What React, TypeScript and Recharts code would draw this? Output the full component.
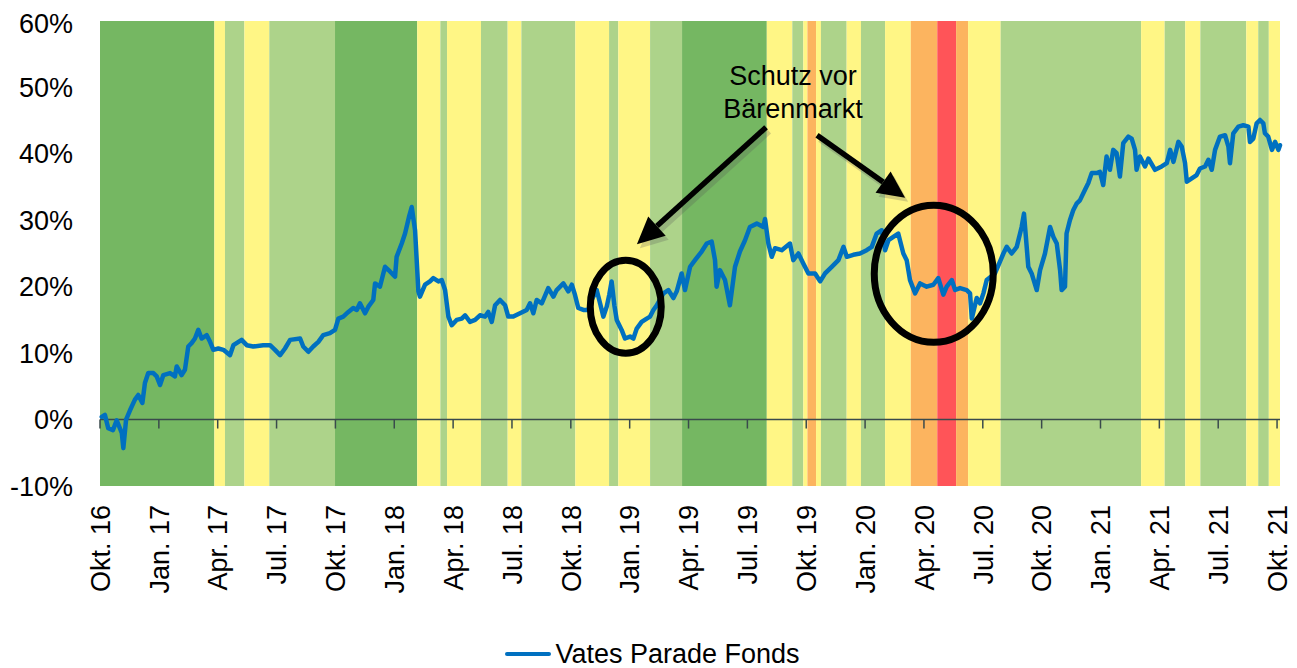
import {
  LineChart,
  Line,
  XAxis,
  YAxis,
  ReferenceArea,
  ReferenceLine,
  ReferenceDot,
  Legend,
} from "recharts";

// x values are months since Okt. 16
const tickMonths = [0, 3, 6, 9, 12, 15, 18, 21, 24, 27, 30, 33, 36, 39, 42, 45, 48, 51, 54, 57, 60];
const tickLabels = [
  "Okt. 16", "Jan. 17", "Apr. 17", "Jul. 17", "Okt. 17", "Jan. 18", "Apr. 18",
  "Jul. 18", "Okt. 18", "Jan. 19", "Apr. 19", "Jul. 19", "Okt. 19", "Jan. 20",
  "Apr. 20", "Jul. 20", "Okt. 20", "Jan. 21", "Apr. 21", "Jul. 21", "Okt. 21",
];
const yTicks = [-10, 0, 10, 20, 30, 40, 50, 60];

// market regime bands
const regimeEdges = [
  0, 5.83, 6.37, 7.36, 8.63, 11.98, 16.17, 17.35, 17.69, 19.42, 20.78, 21.48,
  24.23, 25.95, 26.42, 28.04, 29.67, 33.99, 35.29, 35.85, 36.06, 36.5, 36.75,
  38.06, 38.79, 40.02, 41.33, 42.68, 43.64, 44.25, 45.91, 53.07, 54.27, 55.32,
  56.09, 58.43, 59.04, 59.58, 60.15,
];
const regimeLevels = [
  "strong", "neutral", "positive", "neutral", "positive", "strong", "neutral",
  "positive", "neutral", "positive", "neutral", "positive", "neutral", "positive",
  "neutral", "positive", "strong", "neutral", "positive", "neutral", "weak",
  "neutral", "positive", "neutral", "positive", "neutral", "weak", "bear", "weak",
  "neutral", "positive", "neutral", "positive", "neutral", "positive", "neutral",
  "positive", "neutral",
];
const regimeColors: Record<string, string> = {
  strong: "#75B762",
  positive: "#ADD38A",
  neutral: "#FFF685",
  weak: "#FCB45F",
  bear: "#FF5458",
};

// Vates Parade Fonds performance in %
const fundX = [
  0.09, 0.25, 0.42, 0.66, 0.85, 1.11, 1.19, 1.33, 1.53, 1.78, 1.95, 2.16, 2.29, 2.46, 2.72, 2.89,
  3.06, 3.23, 3.57, 3.82, 3.91, 4.16, 4.33, 4.5, 4.67, 4.84, 5.01, 5.18, 5.44, 5.61, 5.78, 6.03,
  6.29, 6.63, 6.8, 7.22, 7.48, 7.81, 8.32, 8.67, 8.92, 9.18, 9.43, 9.69, 10.2, 10.36, 10.62, 10.87,
  11.13, 11.38, 11.72, 11.98, 12.15, 12.4, 12.66, 12.91, 13.09, 13.25, 13.51, 13.68, 13.93, 14.02,
  14.27, 14.53, 14.78, 15.04, 15.12, 15.38, 15.55, 15.75, 15.89, 16.06, 16.23, 16.31, 16.57, 16.82,
  16.99, 17.25, 17.42, 17.59, 17.76, 17.93, 18.18, 18.44, 18.61, 18.86, 19.12, 19.37, 19.63, 19.79,
  19.97, 20.14, 20.39, 20.65, 20.81, 21.07, 21.41, 21.75, 21.92, 22.09, 22.26, 22.52, 22.85, 23.11,
  23.28, 23.62, 23.87, 24.05, 24.21, 24.38, 24.64, 24.89, 25.06, 25.32, 25.49, 25.66, 25.83, 25.96,
  26.08, 26.22, 26.34, 26.59, 26.76, 27.02, 27.19, 27.36, 27.61, 27.87, 28.04, 28.21, 28.38, 28.72,
  28.97, 29.23, 29.4, 29.65, 29.82, 30.08, 30.33, 30.67, 30.93, 31.18, 31.35, 31.43, 31.6, 31.86,
  32.11, 32.37, 32.62, 32.88, 33.13, 33.48, 33.81, 33.9, 34.07, 34.24, 34.41, 34.75, 35.17, 35.34,
  35.6, 35.85, 36.11, 36.45, 36.71, 36.96, 37.3, 37.64, 37.9, 38.07, 38.4, 38.74, 39.08, 39.34,
  39.59, 39.85, 40.02, 40.19, 40.44, 40.69, 40.95, 41.12, 41.29, 41.55, 41.8, 42.14, 42.48, 42.73,
  42.99, 43.16, 43.42, 43.59, 43.84, 44.18, 44.35, 44.44, 44.69, 44.86, 45.03, 45.2, 45.62, 46.05,
  46.22, 46.47, 46.73, 46.98, 47.1, 47.32, 47.49, 47.75, 47.92, 48.17, 48.43, 48.6, 48.77, 48.94,
  49.02, 49.19, 49.27, 49.44, 49.61, 49.78, 49.95, 50.21, 50.38, 50.55, 50.8, 50.97, 51.14, 51.31,
  51.48, 51.65, 51.82, 51.99, 52.16, 52.42, 52.59, 52.76, 52.84, 53.01, 53.27, 53.44, 53.78, 54.12,
  54.38, 54.55, 54.72, 54.97, 55.14, 55.31, 55.4, 55.65, 55.9, 56.07, 56.33, 56.5, 56.67, 56.84,
  57.09, 57.35, 57.52, 57.6, 57.77, 58.03, 58.28, 58.54, 58.62, 58.79, 58.96, 59.13, 59.3, 59.38,
  59.55, 59.74, 59.9, 60.07, 60.15,
];
const fundY = [
  0.4, 0.7, -1.3, -1.6, -0.1, -2.0, -4.3, 0, 1.4, 3.0, 3.7, 2.5, 5.5, 7.0, 7.0, 6.5,
  5.2, 6.7, 7.0, 6.5, 8.0, 6.7, 7.5, 11.0, 11.5, 12.2, 13.5, 12.2, 12.7, 11.7, 10.5, 10.7,
  10.5, 9.7, 11.2, 12.0, 11.2, 11.0, 11.2, 11.2, 10.5, 9.7, 10.7, 12.0, 12.2, 11.0, 10.2, 11.0,
  11.7, 12.7, 13.0, 13.5, 15.2, 15.5, 16.2, 16.8, 16.5, 17.5, 16.0, 17.0, 18.0, 20.5,
  20.0, 23.0, 22.3, 21.5, 24.5, 26.5, 28.0, 30.5, 32.0, 28.5, 19.3, 18.5, 20.3, 20.8,
  21.3, 20.8, 21.0, 19.5, 15.5, 14.2, 15.0, 15.2, 15.7, 14.7, 15.0, 15.7, 15.5, 16.2,
  14.7, 17.2, 18.0, 17.2, 15.5, 15.5, 16.0, 16.5, 17.5, 16.0, 18.0, 17.5, 19.8, 18.5,
  19.5, 20.5, 19.3, 20.3, 18.8, 16.8, 16.5, 16.5, 18.0, 19.5, 17.5, 15.5, 17.0, 18.8,
  20.8, 17.2, 15.0, 13.5, 12.2, 12.5, 12.2, 13.7, 14.7, 15.2, 15.5, 16.5, 17.2, 19.0,
  19.5, 18.3, 19.3, 22.0, 19.5, 23.0, 24.0, 25.3, 26.5, 26.8, 24.0, 20.0, 22.5, 21.0,
  17.2, 23.0, 25.3, 27.0, 29.0, 29.5, 29.0, 30.2, 26.5, 24.5, 25.8, 25.5, 26.5, 24.0,
  25.0, 23.5, 22.0, 22.0, 20.8, 22.0, 23.0, 24.0, 26.0, 24.5, 24.8, 25.0, 25.5, 26.0,
  28.0, 28.5, 25.5, 27.0, 27.5, 28.0, 25.0, 24.0, 21.0, 19.0, 20.5, 20.0, 20.3, 21.3,
  18.8, 20.0, 21.0, 19.5, 19.8, 19.5, 19.0, 15.2, 18.3, 17.5, 19.0, 21.0, 22.0, 25.0,
  26.0, 25.0, 26.0, 29.0, 31.0, 23.0, 22.0, 19.5, 22.5, 25.0, 29.0, 27.5, 26.5, 22.5,
  19.5, 20.0, 28.0, 30.0, 31.5, 32.5, 33.0, 34.6, 35.6, 37.1, 37.1, 37.3, 35.3, 39.6,
  37.6, 40.6, 40.1, 36.6, 41.6, 42.6, 42.3, 40.6, 37.6, 39.6, 38.1, 39.3, 37.6, 38.1,
  38.6, 40.6, 38.8, 41.8, 41.1, 38.6, 35.8, 36.3, 36.8, 37.8, 38.1, 39.1, 37.6, 40.6,
  42.6, 42.8, 41.1, 38.6, 43.1, 44.1, 44.3, 44.1, 41.8, 42.3, 44.6, 45.1, 44.6, 43.1,
  42.6, 40.6, 41.8, 40.6, 41.3,
];

// annotation anchors (month, %)
const calloutText = ["Schutz vor", "Bärenmarkt"];
const calloutTextAt = { x: 35.33, y: 49.3 };
const arrowFrom = [{ x: 33.95, y: 44.0 }, { x: 36.55, y: 42.8 }];
const arrowTo = [{ x: 27.37, y: 26.4 }, { x: 41.04, y: 33.4 }];
const circleAt = [{ x: 26.8, y: 17.0 }, { x: 42.5, y: 21.95 }];
const circleRadii = [[35.5, 46.5], [59.5, 68.5]];

const FONT = "'Liberation Sans', Arial, Helvetica, sans-serif";

const data = fundX.map((m, i) => ({ m, v: fundY[i] }));

const XTick = (props: any) => {
  const { x, y, payload } = props;
  const label = tickLabels[tickMonths.indexOf(payload.value)];
  return (
    <g transform={`translate(${x},${y})`}>
      <text
        transform="rotate(-90)"
        x={-19}
        y={0}
        dy="0.36em"
        textAnchor="end"
        fontSize={27}
        fontFamily={FONT}
        fill="#000"
      >
        {label}
      </text>
    </g>
  );
};

const ArrowShape = (props: any) => {
  const { x1, y1, x2, y2 } = props;
  const ang = Math.atan2(y2 - y1, x2 - x1);
  const len = 27;
  const half = 13;
  const bx = x2 - len * Math.cos(ang);
  const by = y2 - len * Math.sin(ang);
  const px = -Math.sin(ang) * half;
  const py = Math.cos(ang) * half;
  const pts = `${x2},${y2} ${bx + px},${by + py} ${bx - px},${by - py}`;
  return (
    <g>
      <g opacity={0.25} transform="translate(3,4)">
        <line x1={x1} y1={y1} x2={bx} y2={by} stroke="#555" strokeWidth={6} />
        <polygon points={pts} fill="#555" />
      </g>
      <line x1={x1} y1={y1} x2={bx} y2={by} stroke="#000" strokeWidth={5.5} />
      <polygon points={pts} fill="#000" />
    </g>
  );
};

const makeEllipse = (i: number) => (props: any) => (
  <ellipse
    cx={props.cx}
    cy={props.cy}
    rx={circleRadii[i][0]}
    ry={circleRadii[i][1]}
    fill="none"
    stroke="#000"
    strokeWidth={7}
  />
);

const CalloutShape = (props: any) => (
  <text
    x={props.cx}
    y={props.cy}
    textAnchor="middle"
    fontSize={27}
    fontFamily={FONT}
    fill="#000"
  >
    <tspan x={props.cx} dy="-0.25em">{calloutText[0]}</tspan>
    <tspan x={props.cx} dy="1.2em">{calloutText[1]}</tspan>
  </text>
);

const renderLegend = () => (
  <div
    style={{
      height: 72,
      paddingTop: 44,
      boxSizing: "border-box",
      display: "flex",
      justifyContent: "center",
      alignItems: "center",
      fontFamily: FONT,
      fontSize: 27,
      lineHeight: "28px",
      color: "#000",
    }}
  >
    <span
      style={{
        display: "inline-block",
        width: 46,
        height: 4,
        borderRadius: 2,
        background: "#0070C0",
        marginRight: 4,
      }}
    />
    <span>Vates Parade Fonds</span>
  </div>
);

export default function App() {
  return (
    <div style={{ width: 1289, height: 660 }}>
      <LineChart
        width={1289}
        height={660}
        data={data}
        margin={{ top: 13, right: 17, bottom: 0, left: 0 }}
      >
        <XAxis
          dataKey="m"
          type="number"
          domain={[0, 60.15]}
          ticks={tickMonths}
          interval={0}
          tick={<XTick />}
          tickLine={false}
          axisLine={false}
          tickSize={0}
          tickMargin={0}
          height={110}
        />
        <YAxis
          type="number"
          domain={[-10, 60]}
          ticks={yTicks}
          tickFormatter={(v: number) => `${v}%`}
          tick={{ fontSize: 27, fill: "#000", fontFamily: FONT }}
          tickLine={false}
          axisLine={false}
          tickSize={0}
          tickMargin={27}
          width={92}
        />
        {regimeLevels.map((lvl, i) => (
          <ReferenceArea
            key={`band-${i}`}
            x1={regimeEdges[i]}
            x2={regimeEdges[i + 1]}
            y1={-10}
            y2={60}
            fill={regimeColors[lvl]}
            fillOpacity={1}
            stroke="none"
          />
        ))}
        <ReferenceLine y={0} stroke="#3A4A4C" strokeWidth={1.5} />
        {tickMonths.map((t) => (
          <ReferenceLine
            key={`tick-${t}`}
            segment={[{ x: t, y: 0 }, { x: t, y: -1.35 }]}
            stroke="#3A4A4C"
            strokeWidth={1.5}
          />
        ))}
        <Line
          type="linear"
          dataKey="v"
          stroke="#0070C0"
          strokeWidth={4.5}
          strokeLinejoin="round"
          strokeLinecap="round"
          dot={false}
          isAnimationActive={false}
        />
        {arrowFrom.map((a, i) => (
          <ReferenceLine
            key={`arrow-${i}`}
            segment={[a, arrowTo[i]]}
            shape={<ArrowShape />}
          />
        ))}
        {circleAt.map((c, i) => (
          <ReferenceDot
            key={`circle-${i}`}
            x={c.x}
            y={c.y}
            r={1}
            shape={makeEllipse(i)}
          />
        ))}
        <ReferenceDot
          x={calloutTextAt.x}
          y={calloutTextAt.y}
          r={1}
          shape={CalloutShape}
        />
        <Legend
          verticalAlign="bottom"
          height={72}
          content={renderLegend}
          wrapperStyle={{ left: 0, width: 1289 }}
        />
      </LineChart>
    </div>
  );
}
